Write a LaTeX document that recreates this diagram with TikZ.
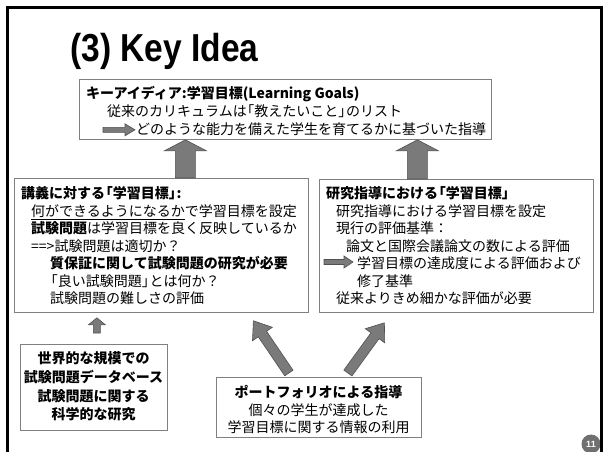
\documentclass[tikz,border=0pt]{standalone}
\usepackage{fontspec}
\setmainfont{Noto Sans CJK JP}
\newfontfamily\titlefont{Liberation Sans}
\usetikzlibrary{calc}
\definecolor{boxgray}{RGB}{128,128,128}
\definecolor{arrfill}{RGB}{122,122,122}
\definecolor{arrline}{RGB}{80,80,80}
\definecolor{badgegray}{RGB}{112,112,112}
\newcommand\LB{\hspace*{-0.45em}「}
\newcommand\RB{」\hspace*{-0.45em}}
\newcommand\BlkArrow[5]{%
  \coordinate (ba-b) at ($(#2)!#5pt!(#1)$);
  \draw[barrow] ($(#1)!#3pt!90:(#2)$) -- ($(ba-b)!#3pt!90:(#2)$) -- ($(ba-b)!#4pt!90:(#2)$) -- (#2) -- ($(ba-b)!#4pt!-90:(#2)$) -- ($(ba-b)!#3pt!-90:(#2)$) -- ($(#1)!#3pt!-90:(#2)$) -- cycle;}
\begin{document}
\begin{tikzpicture}[x=1pt,y=-1pt,
  box/.style={draw=boxgray, line width=0.8pt, fill=white, rectangle, inner sep=0pt, anchor=north west},
  txt/.style={inner sep=0pt, font=\fontsize{14}{17.5}\selectfont, text=black},
  barrow/.style={fill=arrfill, draw=arrline, line width=0.6pt, line join=miter},
]
\useasboundingbox (0,0) rectangle (605,451);
\fill[white] (0,0) rectangle (605,451);

% title
\node[anchor=base west, inner sep=0pt] (title) at (70,61) {\titlefont\bfseries\fontsize{39}{40}\selectfont\scalebox{0.86}[1]{(3) Key Idea}};

% boxes
\node[box, minimum width=412pt, minimum height=60pt] (topbox) at (79,79) {};
\node[box, minimum width=294pt, minimum height=134pt] (lbox) at (14,178) {};
\node[box, minimum width=274pt, minimum height=133pt] (rbox) at (319,179) {};
\node[box, minimum width=147pt, minimum height=86pt] (blbox) at (20,344) {};
\node[box, minimum width=205pt, minimum height=60pt] (bcbox) at (216,377) {};

% texts
\node[txt, anchor=north west, align=left, font=\fontsize{14}{18}\selectfont] (toptext) at (86,86.5) {%
\textbf{キーアイディア:学習目標(Learning Goals)}\\
\hspace*{21pt}従来のカリキュラムは\LB 教えたいこと\RB のリスト\\
\hspace*{50pt}どのような能力を備えた学生を育てるかに基づいた指導};

\node[txt, anchor=north west, align=left] (ltext) at (21,186.5) {%
\textbf{講義に対する\LB 学習目標\RB :}\\
\hspace*{10pt}何ができるようになるかで学習目標を設定\\
\hspace*{10pt}\textbf{試験問題}は学習目標を良く反映しているか\\
\hspace*{10pt}==>試験問題は適切か？\\
\hspace*{29pt}\textbf{質保証に関して試験問題の研究が必要}\\
\hspace*{29pt}\LB 良い試験問題\RB とは何か？\\
\hspace*{29pt}試験問題の難しさの評価};
% underline of the first phrase of line 2
\coordinate (ul1) at ($(ltext.north west)+(10,33)$);
\coordinate (ul2) at ($(ul1)+(154,0)$);
\draw[line width=1pt, draw=black] (ul1) -- (ul2);

\node[txt, anchor=north west, align=left] (rtext) at (326,186.5) {%
\textbf{研究指導における\LB 学習目標」}\\
\hspace*{10pt}研究指導における学習目標を設定\\
\hspace*{10pt}現行の評価基準：\\
\hspace*{20pt}論文と国際会議論文の数による評価\\
\hspace*{31pt}学習目標の達成度による評価および\\
\hspace*{31pt}修了基準\\
\hspace*{10pt}従来よりきめ細かな評価が必要};

\node[txt, anchor=north, align=center, font=\fontsize{14}{18.7}\selectfont\bfseries] (bltext) at (93.5,351.5) {%
世界的な規模での\\試験問題データベース\\試験問題に関する\\科学的な研究};

\node[txt, anchor=north, align=center] (bctext) at (318.5,385.5) {%
\textbf{ポートフォリオによる指導}\\個々の学生が達成した\\学習目標に関する情報の利用};

% block arrows
\coordinate (u1s) at ([xshift=24pt]lbox.north);
\coordinate (u1e) at (u1s |- topbox.south);
\BlkArrow{u1s}{u1e}{10}{21}{11}
\coordinate (u2s) at ([xshift=-39pt]rbox.north);
\coordinate (u2e) at (u2s |- topbox.south);
\BlkArrow{u2s}{u2e}{10}{21}{11}
\coordinate (u3s) at ($(blbox.north)+(3,-11)$);
\coordinate (u3e) at ($(u3s |- lbox.south)+(0,5)$);
\BlkArrow{u3s}{u3e}{3.5}{8.5}{7}
\coordinate (d1s) at ($(bcbox.north)+(-30,-4)$);
\coordinate (d1e) at ($(lbox.south)+(92,8)$);
\BlkArrow{d1s}{d1e}{5}{12}{16}
\coordinate (d2s) at ($(bcbox.north)+(29,-4)$);
\coordinate (d2e) at ($(rbox.south)+(-72,10)$);
\BlkArrow{d2s}{d2e}{5}{12}{16}
% inline arrows
\coordinate (i1s) at ($(topbox.south west)+(24,-10)$);
\coordinate (i1e) at ($(i1s)+(32,0)$);
\BlkArrow{i1s}{i1e}{2.5}{6}{10}
\coordinate (i2s) at ($(rbox.north west)+(5,83)$);
\coordinate (i2e) at ($(i2s)+(29,0)$);
\BlkArrow{i2s}{i2e}{2.5}{6}{9}

% page badge and frame
\node[circle, fill=badgegray, minimum size=19pt, inner sep=0pt, text=white, font=\titlefont\bfseries\fontsize{9}{9}\selectfont] (badge) at (591,444) {11};
\draw[line width=3pt] (7.5,470) -- (7.5,7.5) -- (601,7.5) -- (601,470);
\end{tikzpicture}
\end{document}
